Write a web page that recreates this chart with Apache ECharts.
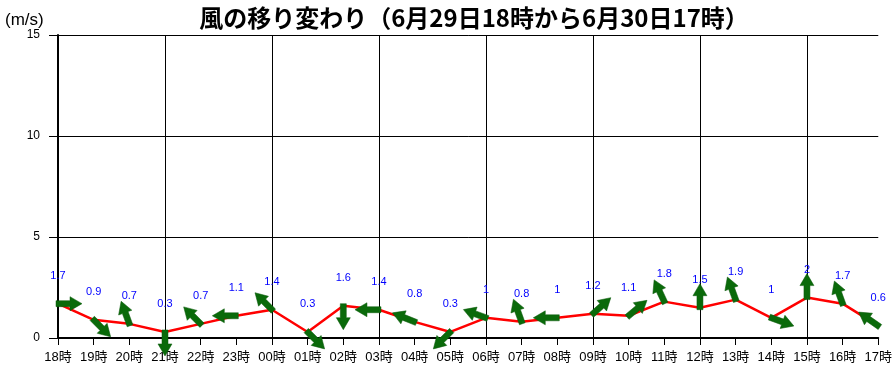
<!DOCTYPE html>
<html><head><meta charset="utf-8">
<script src="https://cdn.jsdelivr.net/npm/echarts@6/dist/echarts.min.js"></script>
<style>html,body{margin:0;padding:0;background:#fff}#c{width:895px;height:366px}</style>
</head><body><div id="c"></div>
<script>
var hours = ['18時','19時','20時','21時','22時','23時','00時','01時','02時','03時','04時','05時','06時','07時','08時','09時','10時','11時','12時','13時','14時','15時','16時','17時'];
var speeds = [1.7,0.9,0.7,0.3,0.7,1.1,1.4,0.3,1.6,1.4,0.8,0.3,1,0.8,1,1.2,1.1,1.8,1.5,1.9,1,2,1.7,0.6];
// arrow pointing direction on screen, degrees clockwise from up
var arrowDeg = [90,135,340,180,315,270,315,135,180,270,292,225,290,340,270,48,50,335,0,340,110,0,340,305];
var yTicks = [0,5,10,15];

var F = "'Liberation Sans','Noto Sans CJK JP',sans-serif";
var chart = echarts.init(document.getElementById('c'));
var arrowData = speeds.map(function(v,i){return [i, v, arrowDeg[i]];});
chart.setOption({
  animation:false,
  title:[{text:'風の移り変わり（6月29日18時から6月30日17時）',left:469,textAlign:'center',top:1,
    textStyle:{fontFamily:"'Noto Sans CJK JP',sans-serif",fontSize:24,fontWeight:'bold',color:'#000'}},
    {text:'(m/s)',left:0,top:7,textStyle:{fontFamily:F,fontSize:17,fontWeight:'normal',color:'#000'}}],
  grid:{left:58,right:15,top:35,bottom:28},
  xAxis:{type:'category',data:hours,boundaryGap:false,
    axisLine:{lineStyle:{color:'#000',width:2}},
    axisTick:{show:true,length:7,lineStyle:{color:'#000',width:1},interval:0},
    axisLabel:{interval:0,color:'#000',fontSize:13,fontFamily:F,margin:13},
    splitLine:{show:true,interval:function(i){return i%3===0;},lineStyle:{color:'#000',width:1}}},
  yAxis:{type:'value',min:yTicks[0],max:yTicks[yTicks.length-1],interval:5,
    axisLine:{show:true,lineStyle:{color:'#000',width:2}},
    axisTick:{show:true,length:9,lineStyle:{color:'#000',width:1}},
    axisLabel:{color:'#000',fontSize:12,fontFamily:F,margin:18},
    splitLine:{show:true,lineStyle:{color:'#000',width:1}}},
  series:[
    {type:'line',data:speeds,symbol:'circle',symbolSize:1,itemStyle:{color:'#ff0000'},
     lineStyle:{color:'#ff0000',width:2.5},z:2,
     label:{show:true,position:'top',distance:22,color:'#0000ff',fontSize:11,fontFamily:F}},
    {type:'custom',data:arrowData,z:5,
     renderItem:function(params,api){
       var p = api.coord([api.value(0), api.value(1)]);
       var a = api.value(2);
       return {type:'polygon',x:p[0],y:p[1],rotation:-a*Math.PI/180,
         shape:{points:[[-3,2],[3,2],[3,-12],[7,-12],[0,-24],[-7,-12],[-3,-12]]},
         style:{fill:'#0a6a0a',stroke:'#0a5a0a',lineWidth:0.5}};
     }}
  ]
});
</script></body></html>
